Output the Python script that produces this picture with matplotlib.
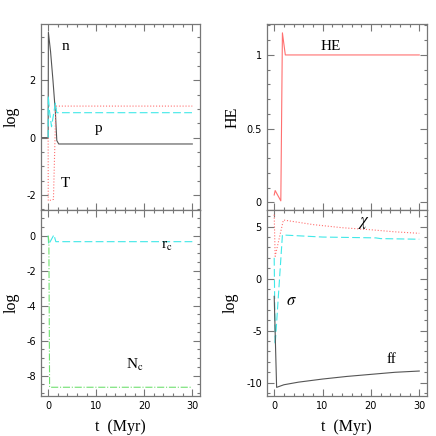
import matplotlib
matplotlib.use("Agg")
import matplotlib.pyplot as plt
from matplotlib.ticker import MultipleLocator

plt.rcParams['axes.unicode_minus'] = False
plt.rcParams['mathtext.fontset'] = 'stix'

# ---- data ----
n_t = [-1.6, 0.0, 0.05, 0.5, 1.0, 1.5, 1.8, 2.2, 30.0]
n_v = [0.0, 0.0, 3.67, 3.0, 2.0, 0.9, -0.1, -0.22, -0.22]
T_t = [0.0, 0.02, 1.1, 1.6, 30.0]
T_v = [0.0, -2.2, -2.15, 1.1, 1.1]
p_t = [0.0, 0.03, 0.3, 0.7, 1.5, 1.8, 30.0]
p_v = [0.0, 1.45, 0.9, 0.38, 1.2, 0.87, 0.87]

HE_t = [0.0, 0.2, 1.37, 1.7, 2.3, 30.0]
HE_v = [0.05, 0.08, 0.01, 1.15, 1.0, 1.0]

rc_t = [0.0, 0.1, 1.2, 1.6, 30.0]
rc_v = [0.0, -0.5, 0.05, -0.34, -0.34]
Nc_t = [0.0, 0.15, 0.3, 30.0]
Nc_v = [0.0, -0.3, -8.66, -8.66]

chi_t = [0.0, 0.2, 1.9, 8.0, 14.0, 20.0, 25.0, 30.0]
chi_v = [6.15, 2.15, 5.64, 5.2, 4.9, 4.7, 4.5, 4.36]
sig_t = [0.0, 0.2, 1.7, 10.0, 21.0, 22.0, 30.0]
sig_v = [2.0, -6.35, 4.2, 4.0, 3.92, 3.85, 3.79]
ff_t = [0.0, 0.5, 2.0, 5.0, 10.0, 15.0, 20.0, 25.0, 30.0]
ff_v = [-1.7, -10.45, -10.2, -9.95, -9.65, -9.4, -9.2, -9.0, -8.88]

RED = '#ff7070'
CYAN = '#40e8e8'
GREEN = '#70e070'
BLACK = '#555555'
AXC = '#777777'

fig = plt.figure(figsize=(4.36, 4.36), dpi=100)
W = 436.0
def pos(x0, x1, ytop, ybot):
    return [x0 / W, (W - ybot) / W, (x1 - x0) / W, (ybot - ytop) / W]

ax_tl = fig.add_axes(pos(40.7, 200, 24, 210))
ax_bl = fig.add_axes(pos(40.7, 200, 210, 396))
ax_tr = fig.add_axes(pos(266.7, 427, 24, 210))
ax_br = fig.add_axes(pos(266.7, 427, 210, 396))

serif = ['Liberation Serif', 'DejaVu Serif']

def style(ax, ymaj, ymin, xlabels):
    ax.set_xlim(-1.55, 31.6)
    ax.xaxis.set_major_locator(MultipleLocator(10))
    ax.xaxis.set_minor_locator(MultipleLocator(2))
    ax.yaxis.set_major_locator(MultipleLocator(ymaj))
    ax.yaxis.set_minor_locator(MultipleLocator(ymin))
    ax.tick_params(which='both', direction='in', top=True, right=True,
                   color=AXC, width=0.8, labelsize=7, labelcolor='black')
    ax.tick_params(which='major', length=5)
    ax.tick_params(which='minor', length=2.5)
    for s in ax.spines.values():
        s.set_color(AXC)
        s.set_linewidth(0.9)
    if not xlabels:
        ax.tick_params(labelbottom=False)
    else:
        ax.set_xlabel('t  (Myr)', family=serif, fontsize=11.5, labelpad=6)

lw = 0.8
# top-left
ax_tl.plot(n_t, n_v, color=BLACK, lw=lw)
ax_tl.plot(T_t, T_v, color=RED, lw=lw, ls=':')
ax_tl.plot(p_t, p_v, color=CYAN, lw=lw, ls=(0, (7, 3)))
ax_tl.set_ylim(-2.52, 3.96)
style(ax_tl, 2, 0.5, False)
ax_tl.set_ylabel('log', family=serif, fontsize=11.5, labelpad=4.5)
ax_tl.text(3.6, 3.17, 'n', family=serif, fontsize=11, ha='center', va='center')
ax_tl.text(10.4, 0.33, 'p', family=serif, fontsize=11, ha='center', va='center')
ax_tl.text(3.5, -1.59, 'T', family=serif, fontsize=11, ha='center', va='center')

# top-right
ax_tr.plot(HE_t, HE_v, color=RED, lw=lw)
ax_tr.set_ylim(-0.052, 1.21)
style(ax_tr, 0.5, 0.1, False)
ax_tr.set_yticks([0, 0.5, 1])
ax_tr.set_yticklabels(['0', '0.5', '1'])
ax_tr.set_ylabel('HE', family=serif, fontsize=11.5, labelpad=4.5)
ax_tr.text(11.7, 1.06, 'HE', family=serif, fontsize=11, ha='center', va='center')

# bottom-left
ax_bl.plot(rc_t, rc_v, color=CYAN, lw=lw, ls=(0, (7, 3)))
ax_bl.plot(Nc_t, Nc_v, color=GREEN, lw=lw, ls='-.')
ax_bl.set_ylim(-9.16, 1.47)
style(ax_bl, 2, 0.5, True)
ax_bl.set_ylabel('log', family=serif, fontsize=11.5, labelpad=4.5)
ax_bl.text(24.6, -0.63, r'r$_{\mathrm{c}}$', family=serif, fontsize=11, ha='center', va='center')
ax_bl.text(18.0, -7.39, r'N$_{\mathrm{c}}$', family=serif, fontsize=11, ha='center', va='center')

# bottom-right
ax_br.plot(chi_t, chi_v, color=RED, lw=lw, ls=':')
ax_br.plot(sig_t, sig_v, color=CYAN, lw=lw, ls=(0, (7, 3)))
ax_br.plot(ff_t, ff_v, color=BLACK, lw=lw)
ax_br.set_ylim(-11.28, 6.6)
style(ax_br, 5, 1, True)
ax_br.set_ylabel('log', family=serif, fontsize=11.5, labelpad=5.5)
ax_br.text(18.6, 5.48, r'$\chi$', fontsize=12, ha='center', va='center')
ax_br.text(3.65, -2.05, r'$\sigma$', fontsize=12, ha='center', va='center')
ax_br.text(24.3, -7.75, 'ff', family=serif, fontsize=11, ha='center', va='center')

fig.savefig('out.png', dpi=100)
